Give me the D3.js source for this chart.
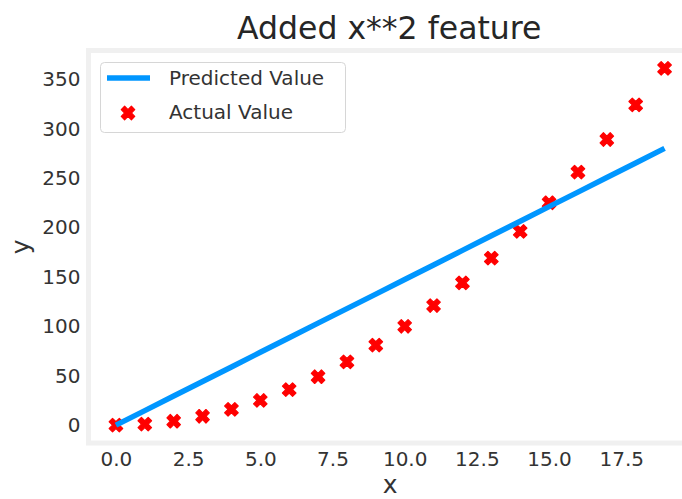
<!DOCTYPE html>
<html>
<head>
<meta charset="utf-8">
<script src="https://cdn.jsdelivr.net/npm/d3@7"></script>
<style>
  html, body { margin: 0; padding: 0; background: #ffffff; }
  svg { display: block; }
  text { font-family: "DejaVu Sans", sans-serif; }
</style>
</head>
<body>
<svg id="chart" width="682" height="499"></svg>
<script>
// Feature values and targets
const xValues = [0, 1, 2, 3, 4, 5, 6, 7, 8, 9, 10, 11, 12, 13, 14, 15, 16, 17, 18, 19];
const actualValues = [0, 1, 4, 9, 16, 25, 36, 49, 64, 81, 100, 121, 144, 169, 196, 225, 256, 289, 324, 361];
const predictedValues = [0, 14.7, 29.5, 44.2, 58.9, 73.7, 88.4, 103.2, 117.9, 132.6, 147.4, 162.1, 176.8, 191.6, 206.3, 221.1, 235.8, 250.5, 265.3, 280];

const xTicks = [0, 2.5, 5, 7.5, 10, 12.5, 15, 17.5];
const yTicks = [0, 50, 100, 150, 200, 250, 300, 350];

const titleText = "Added x**2 feature";
const xLabel = "x";
const yLabel = "y";
const seriesNames = ["Predicted Value", "Actual Value"];

const svg = d3.select("#chart");

const box = { left: 88.5, right: 692, top: 50.5, bottom: 443 };

const x = d3.scaleLinear().domain([-0.95, 19.95]).range([box.left, box.right]);
const y = d3.scaleLinear().domain([-18.05, 379.05]).range([box.bottom, box.top]);

const lineColor = "#0096ff";
const markColor = "#ff0000";
const textColor = "#333333";

// Plot area background
svg.append("rect")
  .attr("x", box.left).attr("y", box.top)
  .attr("width", box.right - box.left).attr("height", box.bottom - box.top)
  .attr("fill", "#ffffff");

// Axes (tick labels only, no tick marks)
const xAxis = svg.append("g")
  .attr("transform", `translate(0,${box.bottom})`)
  .call(d3.axisBottom(x).tickValues(xTicks).tickFormat(d3.format(".1f")).tickSize(0).tickPadding(9));
const yAxis = svg.append("g")
  .attr("transform", `translate(${box.left},0)`)
  .call(d3.axisLeft(y).tickValues(yTicks).tickFormat(d3.format("d")).tickSize(0).tickPadding(8));
[xAxis, yAxis].forEach(g => {
  g.select(".domain").remove();
  g.selectAll("text")
    .attr("fill", textColor)
    .style("font-size", "20px")
    .style("font-family", "DejaVu Sans, sans-serif");
});

// Frame around the plot area
svg.append("rect")
  .attr("x", box.left).attr("y", box.top)
  .attr("width", box.right - box.left).attr("height", box.bottom - box.top)
  .attr("fill", "none")
  .attr("stroke", "#f0f0f0")
  .attr("stroke-width", 5);

// Filled "X" marker path, centred on 0,0
function xMarkerPath(s) {
  const pts = [[0.25, 0], [0.5, 0.25], [0.75, 0], [1, 0.25], [0.75, 0.5], [1, 0.75],
               [0.75, 1], [0.5, 0.75], [0.25, 1], [0, 0.75], [0.25, 0.5], [0, 0.25]];
  return "M" + pts.map(p => [((p[0] - 0.5) * s).toFixed(2), ((p[1] - 0.5) * s).toFixed(2)].join(",")).join("L") + "Z";
}
const markerD = xMarkerPath(13.5);

// Actual values as scatter markers
svg.append("g")
  .selectAll("path")
  .data(xValues.map((v, i) => ({ x: v, y: actualValues[i] })))
  .join("path")
  .attr("d", markerD)
  .attr("transform", d => `translate(${x(d.x)},${y(d.y)})`)
  .attr("fill", markColor)
  .attr("stroke", markColor)
  .attr("stroke-width", 1.2)
  .attr("stroke-linejoin", "round");

// Predicted values as a line
const line = d3.line().x(d => x(d.x)).y(d => y(d.y));
svg.append("path")
  .datum(xValues.map((v, i) => ({ x: v, y: predictedValues[i] })))
  .attr("d", line)
  .attr("fill", "none")
  .attr("stroke", lineColor)
  .attr("stroke-width", 5.5);

// Title and axis labels
svg.append("text")
  .attr("x", (box.left + box.right) / 2 - 1).attr("y", 39)
  .attr("text-anchor", "middle")
  .attr("fill", "#262626")
  .style("font-size", "31.5px")
  .text(titleText);

svg.append("text")
  .attr("x", (box.left + box.right) / 2).attr("y", 493)
  .attr("text-anchor", "middle")
  .attr("fill", textColor)
  .style("font-size", "25px")
  .text(xLabel);

svg.append("text")
  .attr("transform", `translate(29,${(box.top + box.bottom) / 2}) rotate(-90)`)
  .attr("text-anchor", "middle")
  .attr("fill", textColor)
  .style("font-size", "25px")
  .text(yLabel);

// Legend
const legend = svg.append("g");
legend.append("rect")
  .attr("x", 100.5).attr("y", 62.5)
  .attr("width", 245).attr("height", 70)
  .attr("rx", 4)
  .attr("fill", "#ffffff").attr("fill-opacity", 0.8)
  .attr("stroke", "#d6d6d6").attr("stroke-width", 1);
legend.append("line")
  .attr("x1", 107).attr("x2", 150).attr("y1", 78).attr("y2", 78)
  .attr("stroke", lineColor).attr("stroke-width", 5.5);
legend.append("path")
  .attr("d", markerD)
  .attr("transform", "translate(128,113)")
  .attr("fill", markColor).attr("stroke", markColor).attr("stroke-width", 1.2)
  .attr("stroke-linejoin", "round");
legend.selectAll("text.entry")
  .data(seriesNames)
  .join("text")
  .attr("class", "entry")
  .attr("x", 169)
  .attr("y", (d, i) => 85 + i * 34)
  .attr("fill", textColor)
  .style("font-size", "20px")
  .text(d => d);
</script>
</body>
</html>
